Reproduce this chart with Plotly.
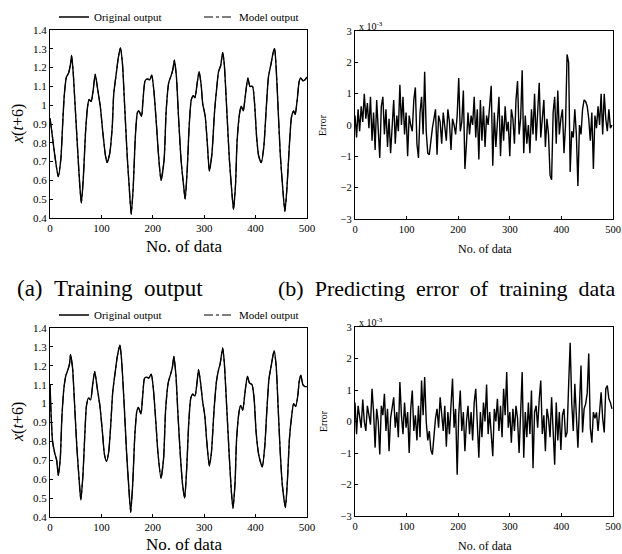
import plotly.graph_objects as go

# ---------------- data ----------------
# (a) training output, sampled points read from the picture
TL_X = [0, 3, 9, 16, 21, 25, 28, 32, 36, 40,
        42, 45, 48, 53, 58, 61, 65, 69, 73, 76,
        80, 84, 88, 93, 98, 103, 108, 111, 116, 121,
        124, 129, 133, 137, 141, 145, 150, 154, 158, 162,
        166, 170, 173, 178, 181, 185, 189, 194, 198, 202,
        207, 211, 216, 222, 226, 231, 236, 239, 242, 246,
        250, 255, 260, 263, 267, 271, 275, 279, 282, 286,
        290, 294, 297, 302, 306, 310, 315, 320, 325, 328,
        332, 336, 339, 344, 349, 354, 357, 361, 364, 369,
        372, 376, 380, 385, 389, 394, 398, 402, 406, 411,
        416, 420, 425, 430, 435, 437, 440, 444, 448, 453,
        457, 461, 466, 470, 474, 477, 481, 485, 488, 492,
        496, 500]
TL_Y = [0.93, 0.87, 0.74, 0.62, 0.71, 0.92, 1.06, 1.15, 1.17, 1.22,
        1.265, 1.18, 1.04, 0.80, 0.57, 0.48, 0.62, 0.85, 0.99, 1.03,
        1.02, 1.08, 1.165, 1.08, 0.99, 0.85, 0.73, 0.695, 0.74, 0.88,
        1.06, 1.17, 1.255, 1.305, 1.22, 1.01, 0.74, 0.57, 0.42, 0.57,
        0.83, 0.96, 0.97, 0.94, 1.03, 1.13, 1.14, 1.135, 1.16, 1.08,
        0.90, 0.74, 0.60, 0.71, 0.97, 1.12, 1.16, 1.19, 1.24, 1.15,
        0.94, 0.71, 0.57, 0.50, 0.66, 0.90, 1.03, 1.05, 1.04, 1.11,
        1.18, 1.11, 1.01, 0.94, 0.80, 0.65, 0.74, 0.96, 1.11, 1.18,
        1.21, 1.28, 1.22, 0.97, 0.71, 0.53, 0.445, 0.58, 0.81, 0.96,
        0.995, 0.97, 1.05, 1.145, 1.10, 1.10, 1.01, 0.83, 0.73, 0.695,
        0.78, 0.95, 1.15, 1.22, 1.29, 1.30, 1.20, 0.97, 0.74, 0.55,
        0.435, 0.56, 0.80, 0.94, 0.97, 0.95, 1.03, 1.13, 1.145, 1.13,
        1.135, 1.15]

# (c) testing output
BL_X = [0, 2, 5, 9, 13, 16, 20, 23, 27, 31,
        35, 38, 40, 44, 47, 52, 57, 60, 64, 68,
        71, 75, 79, 83, 87, 92, 97, 102, 106, 110,
        114, 118, 122, 127, 131, 136, 139, 144, 149, 153,
        157, 161, 165, 169, 172, 177, 180, 184, 188, 192,
        197, 201, 206, 210, 216, 221, 225, 230, 235, 238,
        241, 245, 249, 254, 258, 262, 266, 270, 274, 278,
        282, 286, 289, 293, 297, 301, 305, 310, 314, 319,
        324, 328, 331, 336, 339, 344, 349, 353, 356, 360,
        363, 368, 371, 375, 379, 384, 388, 393, 397, 401,
        406, 413, 418, 422, 426, 431, 436, 440, 444, 448,
        452, 458, 462, 466, 470, 474, 478, 482, 485, 488,
        492, 496, 500]
BL_Y = [1.10, 0.95, 0.80, 0.74, 0.70, 0.62, 0.71, 0.92, 1.08, 1.15,
        1.18, 1.21, 1.26, 1.185, 1.04, 0.78, 0.585, 0.49, 0.62, 0.85,
        0.99, 1.03, 1.02, 1.10, 1.17, 1.08, 0.99, 0.85, 0.73, 0.695,
        0.74, 0.88, 1.06, 1.17, 1.25, 1.31, 1.24, 1.01, 0.74, 0.57,
        0.425, 0.58, 0.83, 0.96, 0.98, 0.945, 1.03, 1.135, 1.14, 1.135,
        1.155, 1.08, 0.90, 0.74, 0.605, 0.71, 0.97, 1.11, 1.16, 1.19,
        1.25, 1.15, 0.94, 0.71, 0.57, 0.50, 0.66, 0.90, 1.03, 1.05,
        1.04, 1.11, 1.18, 1.11, 1.01, 0.94, 0.80, 0.67, 0.74, 0.96,
        1.12, 1.18, 1.21, 1.295, 1.22, 0.97, 0.71, 0.53, 0.445, 0.58,
        0.81, 0.96, 0.99, 0.965, 1.05, 1.145, 1.11, 1.10, 1.03, 0.85,
        0.73, 0.665, 0.78, 0.97, 1.13, 1.21, 1.28, 1.20, 0.97, 0.74,
        0.57, 0.45, 0.60, 0.82, 0.93, 1.00, 0.985, 1.04, 1.12, 1.15,
        1.10, 1.09, 1.09]

# error indices (every 3rd data point, 0..498)
ERR_X = list(range(0, 499, 3))

# (b) predicting error of training data, units of 1e-3
TR_ERR = [0.3, -0.4, 0.5, -0.2, 0.6, 0.1, 1.0, 0.2, 0.7, -0.1,
          0.9, -0.5, 0.4, -0.8, 0.8, 0.0, -1.05, 0.6, 0.9, -0.3,
          0.5, -0.7, 0.2, -0.9, 0.1, 0.8, -0.6, 0.3, -0.2, 1.28,
          0.0, 0.9, -0.3, 0.4, -1.0, 0.3, 0.0, -0.2, 0.8, 1.2,
          -0.6, -1.05, 0.4, 0.9, -0.3, 1.7, -0.2, -0.9, -0.95, -0.4,
          -0.1, 0.2, 0.5, -0.95, 0.3, 0.1, -0.6, 0.4, 0.0, -0.5,
          0.5, 0.1, -0.8, 0.2, 0.0, -0.3, 0.3, 1.5, -0.2, 0.1,
          1.1, -1.4, -0.6, 0.4, -0.3, 0.3, 0.0, 0.9, -0.4, 0.5,
          -1.1, 0.8, -0.5, 0.6, -0.7, 0.3, 0.0, 0.7, 1.25, -1.3,
          0.4, -0.7, 0.2, 0.9, -1.0, 0.3, -0.5, 0.6, -0.2, 0.1,
          -1.0, 0.5, 0.2, -0.6, 0.8, 1.4, -0.3, 0.2, 1.75, -0.9,
          0.3, -0.6, 0.0, -0.9, 0.5, -0.3, 1.0, -0.5, 0.4, 1.35,
          -0.4, 0.3, 0.8, -0.7, 0.2, -0.3, -1.6, -1.75, 0.4, 0.9,
          -0.6, 1.1, -0.3, 0.2, 0.5, -0.9, 0.0, 2.25, 2.0, -1.5,
          -0.2, -0.4, 0.5, -0.3, -1.95, 0.0, -0.3, 0.5, 0.8, 0.75,
          0.6, 0.2, -0.5, 0.4, -1.4, 0.3, -0.1, 0.6, 0.0, 1.0,
          -0.3, 1.0, 0.2, -0.2, 0.5, -0.1, 0.0]

# (d) predicting error of testing data, units of 1e-3
TE_ERR = [0.6, -0.4, 0.5, 0.1, -0.2, 0.7, 0.0, -0.3, 0.5, 0.2,
          -0.1, 1.04, 0.3, -0.83, 0.4, 0.0, -1.05, 0.5, 0.2, 0.88,
          -0.3, 0.4, -0.94, 0.1, 0.5, 0.77, -0.2, 0.3, -0.5, 1.25,
          0.2, -0.4, 0.6, -0.2, 0.3, -1.0, 0.4, 0.98, -0.3, 0.2,
          -0.6, 0.5, -0.5, 1.3, 0.2, 1.41, 0.0, -0.6, -0.3, -0.9,
          -1.05, -0.4, 0.1, 0.4, -0.2, 0.77, 0.3, -0.3, 0.5, -0.8,
          0.3, -0.4, 0.5, 1.36, -0.2, 0.4, -1.69, 0.2, 0.98, -0.3,
          0.3, -0.94, 0.0, 0.5, -0.4, 0.3, -0.6, 0.6, 1.04, -0.2,
          -1.15, 0.3, -0.5, 0.6, 0.0, 1.17, -0.4, 0.3, -0.6, -1.1,
          0.4, 0.0, 0.72, -0.3, 0.5, -0.5, 1.04, 0.2, 1.57, -0.2,
          0.3, -0.67, 0.4, -0.3, 0.5, 0.1, -1.0, 0.6, 1.57, -1.15,
          0.3, -0.5, 0.6, -0.4, 0.98, -1.48, 0.3, 0.5, -0.2, 0.7,
          1.3, -0.4, 0.2, -0.94, 0.4, 0.1, -0.5, 0.77, -0.3, -1.37,
          0.6, -0.6, 0.3, -0.9, 0.2, 0.4, -0.5, -0.35, 1.14, 2.5,
          0.6, -0.3, 1.2, 0.3, -0.83, 0.5, 1.78, -0.35, 0.4, 0.56,
          0.9, 2.16, -0.2, -0.67, 0.3, 0.1, 0.29, -0.3, 0.5, 0.93,
          0.1, -0.35, 1.04, 1.14, 0.72, 0.6, 0.4]

X_TICKS = [0, 100, 200, 300, 400, 500]
OUT_TICKS = [0.4, 0.5, 0.6, 0.7, 0.8, 0.9, 1.0, 1.1, 1.2, 1.3, 1.4]
ERR_TICKS = [-3, -2, -1, 0, 1, 2, 3]

# ---------------- figure ----------------
W, H = 622, 554
SERIF = "Liberation Serif, Times New Roman, serif"

def px_x(a, b):
    return [a / W, b / W]

def px_y(top, bottom):
    return [(H - bottom) / H, (H - top) / H]

fig = go.Figure()

line_kw = dict(color="black", width=1.4, shape="spline", smoothing=0.6)
err_kw = dict(color="black", width=1.4)
fig.add_trace(go.Scatter(x=TL_X, y=TL_Y, mode="lines", name="Original output",
                         line=line_kw, xaxis="x", yaxis="y", legend="legend"))
fig.add_trace(go.Scatter(x=TL_X, y=TL_Y, mode="lines", name="Model output",
                         line=dict(line_kw, dash="dashdot", width=1.1),
                         xaxis="x", yaxis="y", legend="legend"))
fig.add_trace(go.Scatter(x=ERR_X, y=TR_ERR, mode="lines", showlegend=False,
                         line=err_kw, xaxis="x2", yaxis="y2"))
fig.add_trace(go.Scatter(x=BL_X, y=BL_Y, mode="lines", name="Original output",
                         line=line_kw, xaxis="x3", yaxis="y3", legend="legend2"))
fig.add_trace(go.Scatter(x=BL_X, y=BL_Y, mode="lines", name="Model output",
                         line=dict(line_kw, dash="dashdot", width=1.1),
                         xaxis="x3", yaxis="y3", legend="legend2"))
fig.add_trace(go.Scatter(x=ERR_X, y=TE_ERR, mode="lines", showlegend=False,
                         line=err_kw, xaxis="x4", yaxis="y4"))

def xax(dom, anchor, size):
    return dict(domain=dom, anchor=anchor, range=[0, 500], tickvals=X_TICKS,
                showgrid=False, zeroline=False, showline=True, linecolor="black",
                linewidth=1.2, mirror=True, ticks="inside", ticklen=3,
                tickcolor="black", tickfont=dict(family=SERIF, size=size, color="black"))

def yax(dom, anchor, rng, vals, size):
    return dict(domain=dom, anchor=anchor, range=rng, tickvals=vals,
                showgrid=False, zeroline=False, showline=True, linecolor="black",
                linewidth=1.2, mirror=True, ticks="inside", ticklen=3,
                tickcolor="black", tickfont=dict(family=SERIF, size=size, color="black"))

legend_common = dict(orientation="h", xanchor="left", yanchor="middle",
                     font=dict(family=SERIF, size=11, color="black"),
                     bgcolor="rgba(0,0,0,0)", entrywidth=100, entrywidthmode="pixels",
                     itemwidth=30)

fig.update_layout(
    width=W, height=H,
    margin=dict(l=0, r=0, t=0, b=0, autoexpand=False),
    paper_bgcolor="white", plot_bgcolor="white",
    xaxis=xax(px_x(50, 307), "y", 11),
    yaxis=yax(px_y(30, 218), "x", [0.4, 1.4], OUT_TICKS, 11),
    xaxis2=xax(px_x(355, 613), "y2", 10.5),
    yaxis2=yax(px_y(31, 219), "x2", [-3, 3], ERR_TICKS, 10.5),
    xaxis3=xax(px_x(50, 307), "y3", 11),
    yaxis3=yax(px_y(328, 517), "x3", [0.4, 1.4], OUT_TICKS, 11),
    xaxis4=xax(px_x(355, 613), "y4", 10.5),
    yaxis4=yax(px_y(327, 516), "x4", [-3, 3], ERR_TICKS, 10.5),
    legend=dict(legend_common, x=54 / W, y=(H - 17) / H),
    legend2=dict(legend_common, x=54 / W, y=(H - 315) / H),
)

NB = "\u00a0"
ann = []
def text(x, y, s, size, xanchor="center", angle=0):
    ann.append(dict(x=x / W, y=(H - y) / H, xref="paper", yref="paper", text=s,
                    showarrow=False, xanchor=xanchor, yanchor="middle", textangle=angle,
                    font=dict(family=SERIF, size=size, color="black")))

text(184, 246, "No. of data", 17)
text(485, 249, "No. of data", 12)
text(184, 544, "No. of data", 17)
text(485, 546, "No. of data", 12)
text(18, 124, "<i>x</i>(<i>t</i>+6)", 16, angle=-90)
text(18, 422, "<i>x</i>(<i>t</i>+6)", 16, angle=-90)
text(323, 125, "Error", 10, angle=-90)
text(323, 421, "Error", 10, angle=-90)
text(357, 26, "x 10<sup>-3</sup>", 10, xanchor="left")
text(357, 322, "x 10<sup>-3</sup>", 10, xanchor="left")
text(15, 288, "(a)" + NB * 2 + "Training" + NB * 2 + "output", 23, xanchor="left")
text(276, 288, "(b)" + NB * 2 + "Predicting" + NB * 2 + "error" + NB * 2 + "of" + NB * 2
     + "training" + NB * 2 + "data", 22, xanchor="left")
fig.update_layout(annotations=ann)

fig.write_html("out.html", config={"displayModeBar": False},
               post_script="document.body.style.margin='0';document.body.style.overflow='hidden';")
